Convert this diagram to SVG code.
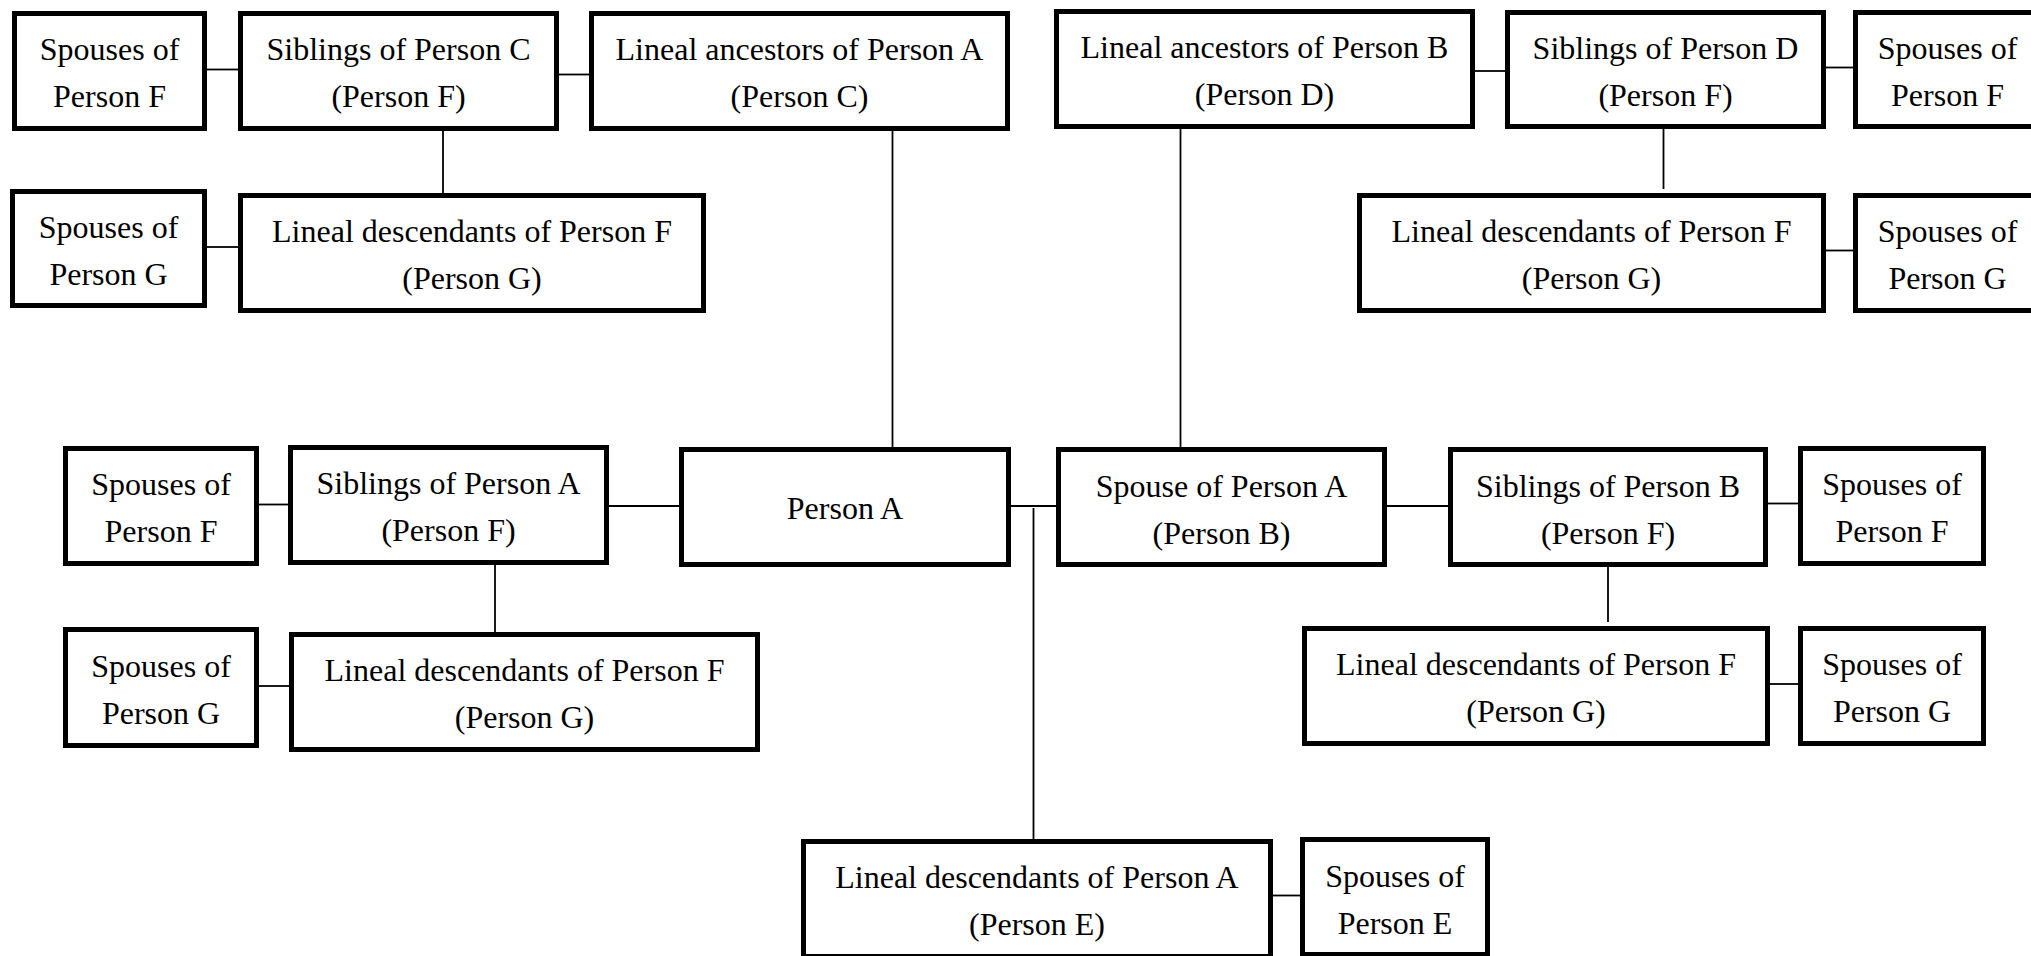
<svg xmlns="http://www.w3.org/2000/svg" width="2031" height="956" viewBox="0 0 2031 956">
<style>
.box { fill: #ffffff; stroke: #000000; stroke-width: 5; }
.t { font-family: "Liberation Serif", "Times New Roman", serif; font-size: 32px; text-anchor: middle; fill: #000000; }
#connectors line { stroke: #000000; stroke-width: 1.8; }
</style>
<rect x="0" y="0" width="2031" height="956" fill="#ffffff"/>
<g id="connectors">
<line x1="207" y1="69.5" x2="238" y2="69.5"/>
<line x1="559" y1="74.5" x2="589" y2="74.5"/>
<line x1="443" y1="131" x2="443" y2="193"/>
<line x1="207" y1="247" x2="238" y2="247"/>
<line x1="892.5" y1="131" x2="892.5" y2="447"/>
<line x1="1180.5" y1="129" x2="1180.5" y2="447"/>
<line x1="1475" y1="71" x2="1505" y2="71"/>
<line x1="1826" y1="67.5" x2="1853" y2="67.5"/>
<line x1="1663.5" y1="129" x2="1663.5" y2="189"/>
<line x1="1826" y1="250.5" x2="1853" y2="250.5"/>
<line x1="259" y1="504.5" x2="288" y2="504.5"/>
<line x1="609" y1="506" x2="679" y2="506"/>
<line x1="495" y1="565" x2="495" y2="632"/>
<line x1="259" y1="686" x2="289" y2="686"/>
<line x1="1011" y1="506" x2="1056" y2="506"/>
<line x1="1033.5" y1="508" x2="1033.5" y2="839"/>
<line x1="1387" y1="506" x2="1448" y2="506"/>
<line x1="1768" y1="503.5" x2="1798" y2="503.5"/>
<line x1="1608" y1="567" x2="1608" y2="622"/>
<line x1="1770" y1="684" x2="1798" y2="684"/>
<line x1="1273" y1="895.5" x2="1300" y2="895.5"/>
</g>
<g id="n1"><rect class="box" x="14.5" y="13.5" width="190" height="115"/><text class="t" x="109.5" y="60">Spouses of</text><text class="t" x="109.5" y="107">Person F</text></g>
<g id="n2"><rect class="box" x="240.5" y="13.5" width="316" height="115"/><text class="t" x="398.5" y="60">Siblings of Person C</text><text class="t" x="398.5" y="107">(Person F)</text></g>
<g id="n3"><rect class="box" x="591.5" y="13.5" width="416" height="115"/><text class="t" x="799.5" y="60">Lineal ancestors of Person A</text><text class="t" x="799.5" y="107">(Person C)</text></g>
<g id="n4"><rect class="box" x="1056.5" y="11.5" width="416" height="115"/><text class="t" x="1264.5" y="58">Lineal ancestors of Person B</text><text class="t" x="1264.5" y="105">(Person D)</text></g>
<g id="n5"><rect class="box" x="1507.5" y="12.5" width="316" height="114"/><text class="t" x="1665.5" y="59">Siblings of Person D</text><text class="t" x="1665.5" y="106">(Person F)</text></g>
<g id="n6"><rect class="box" x="1855.5" y="12.5" width="184" height="114"/><text class="t" x="1947.5" y="59">Spouses of</text><text class="t" x="1947.5" y="106">Person F</text></g>
<g id="n7"><rect class="box" x="12.5" y="191.5" width="192" height="114"/><text class="t" x="108.5" y="238">Spouses of</text><text class="t" x="108.5" y="285">Person G</text></g>
<g id="n8"><rect class="box" x="240.5" y="195.5" width="463" height="115"/><text class="t" x="472" y="242">Lineal descendants of Person F</text><text class="t" x="472" y="289">(Person G)</text></g>
<g id="n9"><rect class="box" x="1359.5" y="195.5" width="464" height="115"/><text class="t" x="1591.5" y="242">Lineal descendants of Person F</text><text class="t" x="1591.5" y="289">(Person G)</text></g>
<g id="n10"><rect class="box" x="1855.5" y="195.5" width="184" height="115"/><text class="t" x="1947.5" y="242">Spouses of</text><text class="t" x="1947.5" y="289">Person G</text></g>
<g id="n11"><rect class="box" x="65.5" y="448.5" width="191" height="115"/><text class="t" x="161" y="495">Spouses of</text><text class="t" x="161" y="542">Person F</text></g>
<g id="n12"><rect class="box" x="290.5" y="447.5" width="316" height="115"/><text class="t" x="448.5" y="494">Siblings of Person A</text><text class="t" x="448.5" y="541">(Person F)</text></g>
<g id="n13"><rect class="box" x="681.5" y="449.5" width="327" height="115"/><text class="t" x="845" y="519">Person A</text></g>
<g id="n14"><rect class="box" x="1058.5" y="449.5" width="326" height="115"/><text class="t" x="1221.5" y="497">Spouse of Person A</text><text class="t" x="1221.5" y="544">(Person B)</text></g>
<g id="n15"><rect class="box" x="1450.5" y="449.5" width="315" height="115"/><text class="t" x="1608" y="497">Siblings of Person B</text><text class="t" x="1608" y="544">(Person F)</text></g>
<g id="n16"><rect class="box" x="1800.5" y="448.5" width="183" height="115"/><text class="t" x="1892" y="495">Spouses of</text><text class="t" x="1892" y="542">Person F</text></g>
<g id="n17"><rect class="box" x="65.5" y="629.5" width="191" height="116"/><text class="t" x="161" y="677">Spouses of</text><text class="t" x="161" y="724">Person G</text></g>
<g id="n18"><rect class="box" x="291.5" y="634.5" width="466" height="115"/><text class="t" x="524.5" y="681">Lineal descendants of Person F</text><text class="t" x="524.5" y="728">(Person G)</text></g>
<g id="n19"><rect class="box" x="1304.5" y="628.5" width="463" height="115"/><text class="t" x="1536" y="675">Lineal descendants of Person F</text><text class="t" x="1536" y="722">(Person G)</text></g>
<g id="n20"><rect class="box" x="1800.5" y="628.5" width="183" height="115"/><text class="t" x="1892" y="675">Spouses of</text><text class="t" x="1892" y="722">Person G</text></g>
<g id="n21"><rect class="box" x="803.5" y="841.5" width="467" height="115"/><text class="t" x="1037" y="888">Lineal descendants of Person A</text><text class="t" x="1037" y="935">(Person E)</text></g>
<g id="n22"><rect class="box" x="1302.5" y="839.5" width="185" height="115"/><text class="t" x="1395" y="887">Spouses of</text><text class="t" x="1395" y="934">Person E</text></g>
</svg>
